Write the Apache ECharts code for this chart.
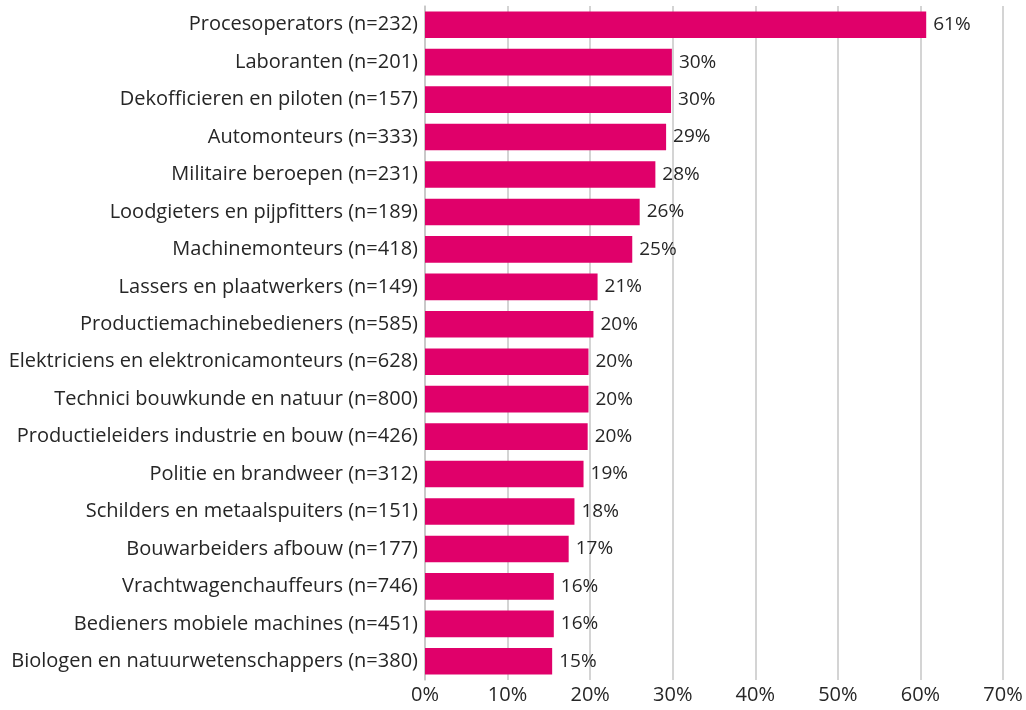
<!DOCTYPE html>
<html>
<head>
<meta charset="utf-8">
<script src="https://cdn.jsdelivr.net/npm/echarts@6/dist/echarts.min.js"></script>
<style>
  html, body { margin: 0; padding: 0; background: #fff; }
  #grafico { width: 1026px; height: 710px; }
</style>
</head>
<body>
<div id="grafico"></div>
<script>
	// DADOS DO GRAFICO
	var beroepen = [
		'Procesoperators (n=232)',
		'Laboranten (n=201)',
		'Dekofficieren en piloten (n=157)',
		'Automonteurs (n=333)',
		'Militaire beroepen (n=231)',
		'Loodgieters en pijpfitters (n=189)',
		'Machinemonteurs (n=418)',
		'Lassers en plaatwerkers (n=149)',
		'Productiemachinebedieners (n=585)',
		'Elektriciens en elektronicamonteurs (n=628)',
		'Technici bouwkunde en natuur (n=800)',
		'Productieleiders industrie en bouw (n=426)',
		'Politie en brandweer (n=312)',
		'Schilders en metaalspuiters (n=151)',
		'Bouwarbeiders afbouw (n=177)',
		'Vrachtwagenchauffeurs (n=746)',
		'Bedieners mobiele machines (n=451)',
		'Biologen en natuurwetenschappers (n=380)'
	];
	var percentages = [60.7, 29.9, 29.8, 29.2, 27.9, 26.0, 25.1, 20.9, 20.4, 19.8, 19.8, 19.7, 19.2, 18.1, 17.4, 15.6, 15.6, 15.4];
	var xTicks = [0, 10, 20, 30, 40, 50, 60, 70];

	var fonte = '"Open Sans", "Noto Sans", sans-serif';
	var cor = '#E0006A';
	var corTexto = '#262626';

	var myChart = echarts.init(document.getElementById('grafico'));

	var option = {
		animation: false,
		grid: {
			left: 425,
			right: 23,
			top: 6,
			bottom: 30,
			containLabel: false
		},
		xAxis: {
			type: 'value',
			min: xTicks[0],
			max: xTicks[xTicks.length - 1],
			interval: 10,
			axisLine: { show: false },
			axisTick: { show: false },
			splitLine: { show: true, lineStyle: { color: '#c6c6c6', width: 1.5 } },
			axisLabel: {
				formatter: function(v){ return v + '%'; },
				fontFamily: fonte,
				fontSize: 20,
				color: corTexto,
				margin: 5
			}
		},
		yAxis: {
			type: 'category',
			data: beroepen,
			inverse: true,
			axisLine: { show: true, lineStyle: { color: '#c6c6c6', width: 1.5 } },
			axisTick: { show: false },
			axisLabel: {
				fontFamily: fonte,
				fontSize: 20,
				color: corTexto,
				margin: 7
			}
		},
		series: [
			{
				type: 'bar',
				data: percentages,
				barCategoryGap: '29%',
				itemStyle: { color: cor },
				label: {
					show: true,
					position: 'right',
					distance: 7,
					fontFamily: fonte,
					fontSize: 19,
					color: corTexto,
					formatter: function(p){ return Math.round(p.value) + '%'; }
				}
			}
		]
	};
	// aplico as opções no chart
	myChart.setOption(option);
</script>
</body>
</html>
